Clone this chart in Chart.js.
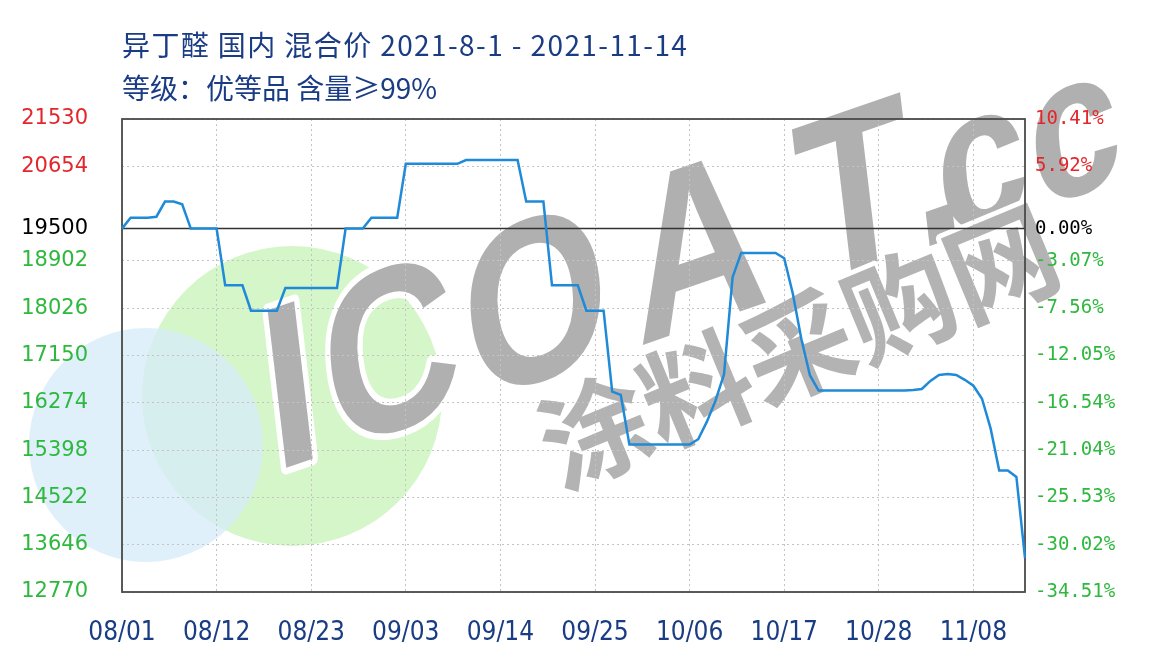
<!DOCTYPE html>
<html>
<head>
<meta charset="utf-8">
<script src="https://cdn.jsdelivr.net/npm/chart.js"></script>
<style>
  body { margin: 0; background: #fff; }
  #wrap { position: relative; width: 1160px; height: 662px; }
  .titulo {
    position: absolute; left: 122px; white-space: nowrap; line-height: 1;
    font-family: "Noto Sans CJK SC", sans-serif; font-size: 28px; color: #1a3c84;
  }
</style>
</head>
<body>
<div id="wrap">
  <canvas id="grafico" width="1160" height="662"></canvas>
  <div class="titulo" style="top:30px; letter-spacing:1.4px">异丁醛 国内 混合价 2021-8-1 - 2021-11-14</div>
  <div class="titulo" style="top:73px">等级：优等品 含量≥99%</div>
</div>
<script>
// preço base (linha 0.00%)
const BASE = 19500;

// datas diárias de 08/01 a 11/14
const fechas = [];
for (let d = new Date(2021, 7, 1); d <= new Date(2021, 10, 14); d.setDate(d.getDate() + 1)) {
    const mm = String(d.getMonth() + 1).padStart(2, '0');
    const dd = String(d.getDate()).padStart(2, '0');
    fechas.push(mm + '/' + dd);
}

// preços (um por dia)
const precios = [
    19500, 19700, 19700, 19700, 19720, 20000, 20000, 19950, 19500, 19500,
    19500, 19500, 18450, 18450, 18450, 17980, 17980, 17980, 17980, 18400,
    18400, 18400, 18400, 18400, 18400, 18400, 19500, 19500, 19500, 19700,
    19700, 19700, 19700, 20700, 20700, 20700, 20700, 20700, 20700, 20700,
    20770, 20770, 20770, 20770, 20770, 20770, 20770, 20000, 20000, 20000,
    18450, 18450, 18450, 18450, 17980, 17980, 17980, 16480, 16420, 15500,
    15500, 15500, 15500, 15500, 15500, 15500, 15500, 15600, 15920, 16310,
    16800, 18600, 19050, 19050, 19050, 19050, 19050, 18950, 18300, 17450,
    16780, 16500, 16500, 16500, 16500, 16500, 16500, 16500, 16500, 16500,
    16500, 16500, 16510, 16530, 16680, 16790, 16806, 16790, 16700, 16590,
    16350, 15800, 15020, 15020, 14900, 13400
];

const ticksY = [12770, 13646, 14522, 15398, 16274, 17150, 18026, 18902, 19500, 20654, 21530];

function corTick(v) {
    if (v > BASE) return '#e3262b';
    if (v < BASE) return '#2eb83e';
    return '#000';
}

// letras da marca d'água e seus deslocamentos ao longo da linha de base
const letrasMarca = ['I', 'C', 'O', 'A', 'T', '.', 'c', 'c'];
const passoMarca = [0, 63, 211, 385, 565, 680, 708, 806];

// círculos e marca d'água, moldura e linha base
const marcaDagua = {
    id: 'marcaDagua',
    beforeDraw(chart) {
        const ctx = chart.ctx;
        ctx.save();
        ctx.fillStyle = '#d5f6c9';
        ctx.beginPath(); ctx.arc(292, 396, 150, 0, Math.PI * 2); ctx.fill();
        ctx.fillStyle = 'rgba(214,235,250,0.75)';
        ctx.beginPath(); ctx.arc(146, 445, 117, 0, Math.PI * 2); ctx.fill();

        ctx.lineJoin = 'round';
        ctx.setTransform(0.946, -0.326, 0.14, 1.18, 274, 472);
        ctx.textBaseline = 'alphabetic';
        ctx.strokeStyle = '#fff';
        ctx.lineWidth = 11;
        letrasMarca.forEach((l, i) => {
            ctx.font = (l === 'c' ? 'bold 170px' : 'bold 194px') + ' "Liberation Sans", Arial, sans-serif';
            ctx.strokeText(l, passoMarca[i], 0);
        });
        ctx.fillStyle = '#b0b0b0';
        letrasMarca.forEach((l, i) => {
            ctx.font = (l === 'c' ? 'bold 170px' : 'bold 194px') + ' "Liberation Sans", Arial, sans-serif';
            ctx.fillText(l, passoMarca[i], 0);
        });

        ctx.setTransform(1, 0, 0, 1, 0, 0);
        ctx.translate(798, 347);
        ctx.rotate(-22.5 * Math.PI / 180);
        ctx.font = 'bold 110px "Noto Sans CJK SC", sans-serif';
        ctx.textAlign = 'center';
        ctx.textBaseline = 'middle';
        ctx.lineWidth = 10;
        ctx.strokeText('涂料采购网', 0, 0);
        ctx.fillStyle = '#b3b3b3';
        ctx.fillText('涂料采购网', 0, 0);
        ctx.restore();
    },
    beforeDatasetsDraw(chart) {
        const ctx = chart.ctx;
        const a = chart.chartArea;
        const y0 = chart.scales.y.getPixelForValue(BASE);
        ctx.save();
        ctx.strokeStyle = '#333';
        ctx.lineWidth = 1.5;
        ctx.beginPath(); ctx.moveTo(a.left, y0); ctx.lineTo(a.right, y0); ctx.stroke();
        ctx.strokeStyle = '#4a4a4a';
        ctx.lineWidth = 1.8;
        ctx.strokeRect(a.left, a.top, a.right - a.left, a.bottom - a.top);
        ctx.restore();
    }
};

const ctx = document.getElementById('grafico').getContext('2d');
new Chart(ctx, {
    type: 'line',
    data: {
        labels: fechas,
        datasets: [{
            label: '异丁醛',
            data: precios,
            borderColor: '#1f8ad8',
            borderWidth: 2.5,
            pointRadius: 0,
            tension: 0,
            yAxisID: 'y'
        }]
    },
    options: {
        responsive: false,
        animation: false,
        layout: { padding: { top: 119, left: 0, right: 0, bottom: 0 } },
        plugins: {
            legend: { display: false },
            tooltip: { enabled: false }
        },
        scales: {
            x: {
                type: 'category',
                afterFit: s => { s.height = 70; },
                border: { display: false, dash: [2, 3] },
                grid: {
                    drawTicks: false,
                    color: c => (c.index % 11 === 0 ? '#c4c4c4' : 'rgba(0,0,0,0)')
                },
                ticks: {
                    autoSkip: false,
                    maxRotation: 0,
                    padding: 26,
                    color: '#1a3c84',
                    font: { family: '"Liberation Sans Narrow", "DejaVu Sans Condensed", sans-serif', size: 26 },
                    callback: (v, i) => (i % 11 === 0 ? fechas[i] : '')
                }
            },
            y: {
                position: 'left',
                min: 12770,
                max: 21530,
                afterFit: s => { s.width = 122; },
                afterBuildTicks: s => { s.ticks = ticksY.map(v => ({ value: v })); },
                border: { display: false, dash: [2, 3] },
                grid: { drawTicks: false, color: '#c4c4c4' },
                ticks: {
                    padding: 34,
                    color: c => corTick(c.tick.value),
                    font: { family: '"DejaVu Sans", sans-serif', size: 21 },
                    callback: v => String(v)
                }
            },
            y2: {
                position: 'right',
                min: 12770,
                max: 21530,
                afterFit: s => { s.width = 135; },
                afterBuildTicks: s => { s.ticks = ticksY.map(v => ({ value: v })); },
                border: { display: false },
                grid: { drawOnChartArea: false, drawTicks: false },
                ticks: {
                    padding: 10,
                    color: c => corTick(c.tick.value),
                    font: { family: '"DejaVu Sans Mono", monospace', size: 19 },
                    callback: v => ((v / BASE - 1) * 100).toFixed(2) + '%'
                }
            }
        }
    },
    plugins: [marcaDagua]
});
</script>
</body>
</html>
